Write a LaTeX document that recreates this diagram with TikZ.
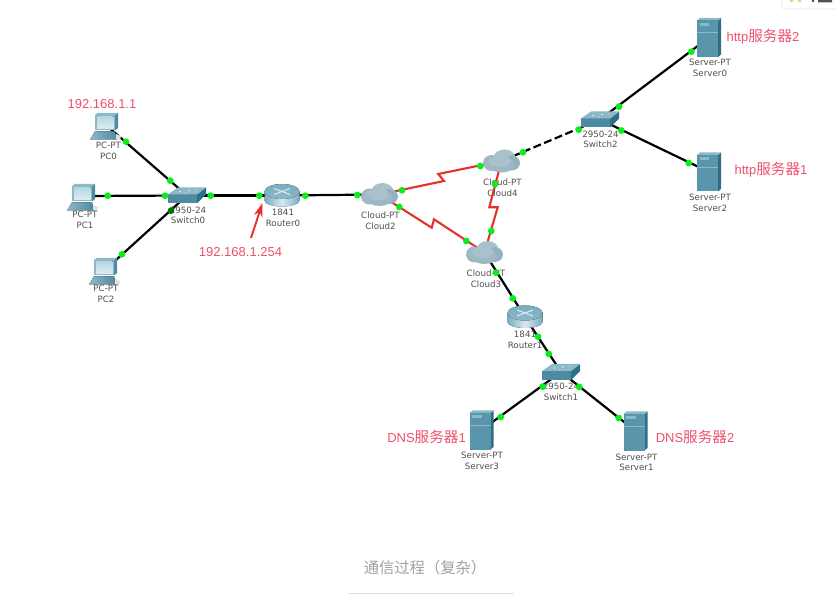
\documentclass[tikz,border=0pt]{standalone}
\usepackage{fontspec}
\usepackage{amsmath}
\setmainfont{Liberation Sans}
\newfontfamily\cjk{Noto Sans CJK SC}
\newfontfamily\devfont{DejaVu Sans}
\usetikzlibrary{arrows.meta}
\definecolor{notered}{HTML}{EF4F6B}
\definecolor{devtext}{HTML}{505050}
\definecolor{serial}{HTML}{E5302B}
\definecolor{portgreen}{HTML}{0AEE1E}
\definecolor{capgray}{HTML}{A0A0A0}
\definecolor{tealdark}{HTML}{2F6E87}
\definecolor{tealmid}{HTML}{4E8AA1}
\definecolor{teallight}{HTML}{8DB8C7}
\definecolor{tealpale}{HTML}{D8E9EF}
\definecolor{routerside}{HTML}{78ACBF}
\definecolor{screenhi}{HTML}{B4D6E1}
\definecolor{screenlo}{HTML}{DCECF1}
\definecolor{cloudA}{HTML}{9DB9C5}
\definecolor{cloudB}{HTML}{A8C1CB}
\definecolor{cloudC}{HTML}{93B2BF}
\definecolor{serverfront}{HTML}{5A96AB}
\definecolor{marky}{HTML}{E9D36B}
\newcommand{\zh}[1]{{\cjk\fontsize{14.6}{15}\selectfont #1}}
\tikzset{
  dev/.style = {inner sep = 0pt, minimum size = 0pt},
  link/.style = {draw = black, line width = 2.2pt},
  dashlink/.style = {link, dash pattern = on 8pt off 3.5pt},
  seriallink/.style = {draw = serial, line width = 2.1pt},
  port/.style = {circle, fill = portgreen, inner sep = 0pt, minimum size = 6.8pt},
  devlabel/.style = {align = center, text = devtext, font = \devfont\fontsize{8.7}{10.6}\selectfont},
  note/.style = {text = notered, inner sep = 0pt, font = \fontsize{13}{15}\selectfont},
  pc/.pic = {
    \fill[tealmid] (9, -10) -- (12, -12) -- (12, 3) -- (9, 5.5) -- cycle;
    \fill[teallight] (-11, -10) -- (-8, -12) -- (12, -12) -- (9, -10) -- cycle;
    \fill[teallight] (-11, -10) rectangle (9, 5.5);
    \fill[top color = screenhi, bottom color = screenlo] (-9, -8.5) rectangle (7.5, 3.5);
    \fill[left color = teallight, right color = tealmid] (-16, 14.5) -- (-11, 6.5) -- (9, 6.5) -- (11, 14.5) -- cycle;
    \fill[black!12] (10, 9) -- (15, 11) -- (14, 15) -- (10, 14) -- cycle;
  },
  switchbox/.pic = {
    \fill[tealmid] (-19, -1) rectangle (10, 8);
    \fill[tealdark] (10, -1) -- (19, -8) -- (19, -1) -- (10, 8) -- cycle;
    \fill[teallight] (-19, -1) -- (-9, -8) -- (19, -8) -- (10, -1) -- cycle;
    \fill[white!85!gray] (-7, -4) circle (0.8) (2, -5) circle (0.8) (-1, -2.5) circle (0.7) (9, -5.5) circle (0.7);
  },
  routerbox/.pic = {
    \fill[left color = routerside, right color = routerside, middle color = tealpale] (-17.5, -4) -- (-17.5, 5) arc (180 : 0 : 17.5 and 6) -- (17.5, -4) -- cycle;
    \fill[top color = routerside, bottom color = teallight] (0, -4) ellipse (17.5 and 7.5);
    \draw[tealpale, line width = 1.1pt] (-8, -7) -- (8, -1) (8, -7) -- (-8, -1);
  },
  cloudbox/.pic = {
    \fill[cloudA] (-10, 2) ellipse (8.5 and 8);
    \fill[cloudB] (3, -3) ellipse (11 and 8.5);
    \fill[cloudC] (10, 2) ellipse (8.5 and 7.5);
    \fill[cloudA] (0, 4) ellipse (13 and 7.5);
    \fill[cloudB] (-2, 0) ellipse (11 and 6);
  },
  serverbox/.pic = {
    \fill[tealdark] (9, -17) -- (12, -19.5) -- (12, 17) -- (9, 19.5) -- cycle;
    \fill[teallight] (-12, -17) -- (-9, -19.5) -- (12, -19.5) -- (9, -17) -- cycle;
    \fill[serverfront] (-12, -17) rectangle (9, 19.5);
    \fill[teallight] (-9.5, -14.5) rectangle (0, -11.5);
    \draw[teallight, line width = 0.4pt] (-12, -5) -- (9, -5);
  }
}
\begin{document}
\begin{tikzpicture}[x = 1pt, y = -1pt]
  \useasboundingbox (0, 0) rectangle (836, 612);

  \node[dev] (PC0) at (106, 125) {};
  \node[dev] (PC1) at (83, 196) {};
  \node[dev] (PC2) at (105, 270) {};
  \node[dev] (Switch0) at (187, 195.5) {};
  \node[dev] (Router0) at (282, 195.5) {};
  \node[dev] (Cloud2) at (379.5, 194.5) {};
  \node[dev] (Cloud3) at (484.5, 252.5) {};
  \node[dev] (Cloud4) at (501.5, 161) {};
  \node[dev] (Router1) at (525, 317) {};
  \node[dev] (Switch1) at (561, 372) {};
  \node[dev] (Switch2) at (600, 119.5) {};
  \node[dev] (Server0) at (709, 37.5) {};
  \node[dev] (Server2) at (709, 172) {};
  \node[dev] (Server3) at (481.5, 430) {};
  \node[dev] (Server1) at (635.5, 431) {};

  \coordinate (Z24a) at (444, 181);
  \coordinate (Z24b) at (438.3, 174);
  \coordinate (Z23a) at (431.7, 227.7);
  \coordinate (Z23b) at (434, 219.3);
  \coordinate (Z43a) at (489.3, 207.3);
  \coordinate (Z43b) at (497.7, 207.3);

  \draw[link] (PC0) -- (Switch0);
  \draw[link] (PC1) -- (Switch0);
  \draw[link] (PC2) -- (Switch0);
  \draw[link] (Switch0) -- (Router0);
  \draw[link] (Router0) -- (Cloud2);
  \draw[seriallink] (Cloud2) -- (Z24a) -- (Z24b) -- (Cloud4);
  \draw[seriallink] (Cloud2) -- (Z23a) -- (Z23b) -- (Cloud3);
  \draw[seriallink] (Cloud4) -- (Z43a) -- (Z43b) -- (Cloud3);
  \draw[dashlink] (Cloud4) -- (Switch2);
  \draw[link] (Switch2) -- (Server0);
  \draw[link] (Switch2) -- (Server2);
  \draw[link] (Cloud3) -- (Router1);
  \draw[link] (Router1) -- (Switch1);
  \draw[link] (Switch1) -- (Server3);
  \draw[link] (Switch1) -- (Server1);

  \pic at (PC0) {pc};
  \pic at (PC1) {pc};
  \pic at (PC2) {pc};
  \pic at (Switch0) {switchbox};
  \pic at (Switch1) {switchbox};
  \pic at (Switch2) {switchbox};
  \pic at (Router0) {routerbox};
  \pic at (Router1) {routerbox};
  \pic at (Cloud2) {cloudbox};
  \pic at (Cloud3) {cloudbox};
  \pic at (Cloud4) {cloudbox};
  \pic at (Server0) {serverbox};
  \pic at (Server1) {serverbox};
  \pic at (Server2) {serverbox};
  \pic at (Server3) {serverbox};

  \node[devlabel] (PC0t) at (108.5, 151) {PC-PT\\PC0};
  \node[devlabel] (PC1t) at (85, 220) {PC-PT\\PC1};
  \node[devlabel] (PC2t) at (106, 294) {PC-PT\\PC2};
  \node[devlabel] (Switch0t) at (188, 215.5) {2950-24\\Switch0};
  \node[devlabel] (Router0t) at (283, 218) {1841\\Router0};
  \node[devlabel] (Cloud2t) at (380.5, 221) {Cloud-PT\\Cloud2};
  \node[devlabel] (Cloud3t) at (486, 279) {Cloud-PT\\Cloud3};
  \node[devlabel] (Cloud4t) at (502.5, 187.5) {Cloud-PT\\Cloud4};
  \node[devlabel] (Router1t) at (525, 340) {1841\\Router1};
  \node[devlabel] (Switch1t) at (561, 392) {2950-24\\Switch1};
  \node[devlabel] (Switch2t) at (600.5, 139.5) {2950-24\\Switch2};
  \node[devlabel] (Server0t) at (710, 68) {Server-PT\\Server0};
  \node[devlabel] (Server2t) at (710, 203) {Server-PT\\Server2};
  \node[devlabel] (Server3t) at (482, 461) {Server-PT\\Server3};
  \node[devlabel] (Server1t) at (636.5, 462.5) {Server-PT\\Server1};

  \node[port] (P0a) at (126, 141.7) {};
  \node[port] (P0b) at (170.3, 180.7) {};
  \node[port] (P1a) at (107.7, 195.7) {};
  \node[port] (P1b) at (165, 195.7) {};
  \node[port] (P2a) at (122, 254.3) {};
  \node[port, fill = green!45!black] (P2b) at (171, 210.7) {};
  \node[port] (S0r) at (210.7, 195.7) {};
  \node[port] (R0l) at (259.3, 195.7) {};
  \node[port] (R0r) at (305.3, 195.7) {};
  \node[port] (C2l) at (357.3, 195) {};
  \node[port] (C2u) at (402, 190.3) {};
  \node[port] (C2d) at (399.3, 207) {};
  \node[port] (C4l) at (480.3, 166) {};
  \node[port] (C4r) at (523, 152.3) {};
  \node[port] (C4d) at (495, 184) {};
  \node[port] (S2l) at (578.7, 129.7) {};
  \node[port] (S2u) at (619, 106.7) {};
  \node[port] (S2d) at (621.3, 130.5) {};
  \node[port] (Sv0) at (691.3, 51.7) {};
  \node[port] (Sv2) at (688.7, 163) {};
  \node[port] (C3u) at (491.3, 231) {};
  \node[port] (C3l) at (466.3, 241) {};
  \node[port] (C3d) at (496, 272.7) {};
  \node[port] (R1u) at (512.7, 298.3) {};
  \node[port] (R1d) at (538, 336.7) {};
  \node[port] (S1u) at (548.8, 353.8) {};
  \node[port] (S1l) at (542.7, 386.7) {};
  \node[port] (S1r) at (579.3, 387) {};
  \node[port] (Sv3) at (500.7, 417) {};
  \node[port] (Sv1) at (618.7, 418) {};

  \node[note] (IP0) at (102, 104.5) {192.168.1.1};
  \node[note] (IP1) at (240.5, 252) {192.168.1.254};
  \node[note] (Http2) at (763, 36.5) {http\zh{服务器}2};
  \node[note] (Http1) at (771, 170) {http\zh{服务器}1};
  \node[note] (Dns1) at (426.5, 436.5) {DNS\zh{服务器}1};
  \node[note] (Dns2) at (695, 436.5) {DNS\zh{服务器}2};

  \coordinate (ArrowTail) at (251, 238);
  \coordinate (ArrowHead) at (262.5, 203);
  \draw[draw = serial, line width = 1.9pt, -{Stealth[length = 14pt, width = 9pt]}] (ArrowTail) -- (ArrowHead);

  \node[text = capgray, inner sep = 0pt, font = \cjk\fontsize{15.3}{18}\selectfont] (Caption) at (425, 567.5) {通信过程（复杂）};
  \coordinate (RuleL) at (348, 593);
  \coordinate (RuleR) at (514, 593);
  \draw[draw = black!12, line width = 0.7pt] (RuleL) -- (RuleR);

  \draw[draw = black!10, line width = 0.7pt, rounded corners = 3pt] (782, -4) -- (782, 9) -- (840, 9);
  \fill[marky] (790, 0) rectangle (793, 2) (798, 0) rectangle (801, 2);
  \fill[devtext] (812, 0) rectangle (814, 2) (818, 0) rectangle (832, 2.5);
\end{tikzpicture}
\end{document}
